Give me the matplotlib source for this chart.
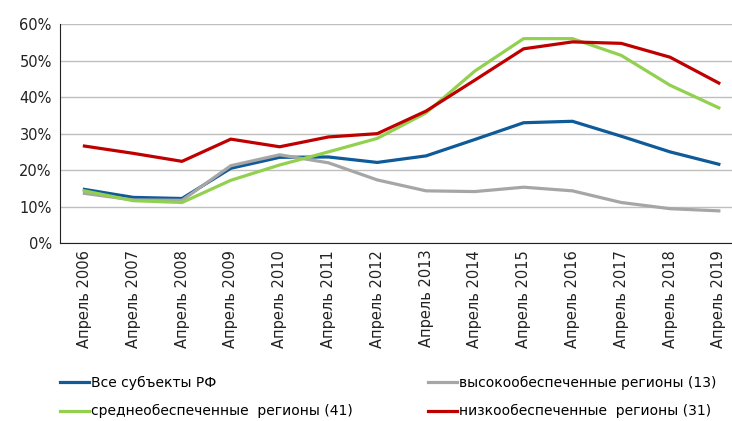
import numpy as np
import matplotlib
matplotlib.use("Agg")
import matplotlib.pyplot as plt
from matplotlib.ticker import PercentFormatter

plt.rcParams['font.family'] = ['Liberation Sans Narrow', 'DejaVu Sans']

# data (%)
years = ['Апрель 2006', 'Апрель 2007', 'Апрель 2008', 'Апрель 2009', 'Апрель 2010',
         'Апрель 2011', 'Апрель 2012', 'Апрель 2013', 'Апрель 2014', 'Апрель 2015',
         'Апрель 2016', 'Апрель 2017', 'Апрель 2018', 'Апрель 2019']
all_rf = [14.7, 12.5, 12.2, 20.5, 23.5, 23.6, 22.1, 23.9, 28.4, 33.0, 33.4, 29.3, 25.0, 21.6]
high = [13.6, 11.8, 11.7, 21.2, 24.2, 22.0, 17.3, 14.3, 14.1, 15.3, 14.3, 11.1, 9.4, 8.8]
mid = [14.3, 11.6, 11.1, 17.2, 21.4, 25.0, 28.7, 35.7, 47.2, 56.1, 56.1, 51.5, 43.3, 37.1]
low = [26.6, 24.6, 22.4, 28.5, 26.4, 29.1, 30.0, 36.2, 44.7, 53.3, 55.2, 54.8, 51.0, 43.9]

fig = plt.figure(figsize=(7.32, 4.21), dpi=100)
ax = fig.add_axes([0.082, 0.423, 0.918, 0.519])

x = np.arange(len(years))
l1, = ax.plot(x, all_rf, color='#0F5A98', lw=2.3, label='Все субъекты РФ')
l2, = ax.plot(x, high, color='#A6A6A6', lw=2.3, label='высокообеспеченные регионы (13)')
l3, = ax.plot(x, mid, color='#92D050', lw=2.3, label='среднеобеспеченные  регионы (41)')
l4, = ax.plot(x, low, color='#C00000', lw=2.3, label='низкообеспеченные  регионы (31)')

ax.set_ylim(0, 60)
ax.set_yticks(range(0, 61, 10))
ax.yaxis.set_major_formatter(PercentFormatter(decimals=0))
ax.set_xlim(-0.5, 13.27)
ax.set_xticks(x)
ax.set_xticklabels(years, rotation=90)
ax.tick_params(length=0, labelsize=10.5, colors='#222222')
ax.tick_params(axis='x', pad=5)
ax.tick_params(axis='y', pad=6)
ax.grid(axis='y', color='#BFBFBF', lw=1)
ax.set_axisbelow(True)
for s in ['top', 'right']:
    ax.spines[s].set_visible(False)
ax.spines['left'].set_color('#222222')
ax.spines['bottom'].set_color('#222222')

leg_kw = dict(loc='lower left', frameon=False, fontsize=10, handlelength=2.1,
              handletextpad=0.15, labelspacing=1.05, borderaxespad=0, borderpad=0)
leg1 = fig.legend(handles=[l1, l3], bbox_to_anchor=(0.082, 0.006), **leg_kw)
leg2 = fig.legend(handles=[l2, l4], bbox_to_anchor=(0.585, 0.006), **leg_kw)

fig.savefig('out.png', dpi=100)
